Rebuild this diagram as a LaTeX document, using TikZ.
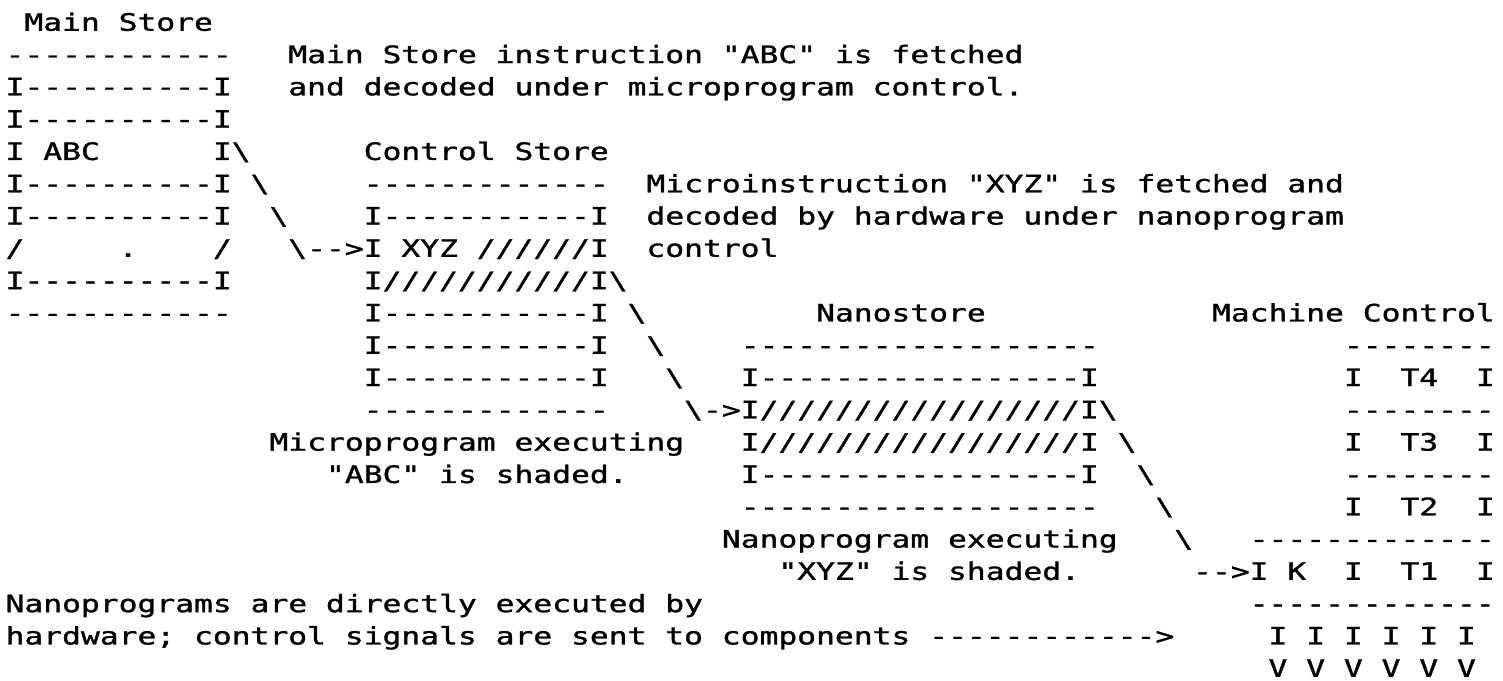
\documentclass[tikz,border=0pt]{standalone}
\usepackage{fontspec}
\setmonofont[FakeBold=1.1]{DejaVu Sans Mono}
\usepackage{graphicx}
\tikzset{asciitext/.style={anchor=base west,inner sep=0pt,outer sep=0pt,text=black}}
% #1 column, #2 row, #3 text (one run of the fixed-pitch printout)
\newcommand{\T}[3]{\node[asciitext] at ({5.575+18.85*#1},{30.75+32.3*(#2-1)}) {\scalebox{1.3046}[1]{\fontsize{12pt}{14pt}\selectfont\ttfamily #3}};}
\newcommand{\B}{\textbackslash}
\begin{document}
\begin{tikzpicture}[x=0.5pt,y=-0.5pt]
\fill[white] (0,0) rectangle (1503,680);
\useasboundingbox (0,0) rectangle (1503,680);
% row 1
\T{1}{1}{Main Store}
% row 2
\T{0}{2}{------------}
\T{15}{2}{Main Store instruction "ABC" is fetched}
% row 3
\T{0}{3}{I----------I}
\T{15}{3}{and decoded under microprogram control.}
% row 4
\T{0}{4}{I----------I}
% row 5
\T{0}{5}{I ABC}
\T{11}{5}{I\B}
\T{19}{5}{Control Store}
% row 6
\T{0}{6}{I----------I}
\T{13}{6}{\B}
\T{19}{6}{-------------}
\T{34}{6}{Microinstruction "XYZ" is fetched and}
% row 7
\T{0}{7}{I----------I}
\T{14}{7}{\B}
\T{19}{7}{I-----------I}
\T{34}{7}{decoded by hardware under nanoprogram}
% row 8
\T{0}{8}{/}
\T{6}{8}{.}
\T{11}{8}{/}
\T{15}{8}{\B-->I XYZ //////I}
\T{34}{8}{control}
% row 9
\T{0}{9}{I----------I}
\T{19}{9}{I///////////I\B}
% row 10
\T{0}{10}{------------}
\T{19}{10}{I-----------I}
\T{33}{10}{\B}
\T{43}{10}{Nanostore}
\T{64}{10}{Machine Control}
% row 11
\T{19}{11}{I-----------I}
\T{34}{11}{\B}
\T{39}{11}{-------------------}
\T{71}{11}{--------}
% row 12
\T{19}{12}{I-----------I}
\T{35}{12}{\B}
\T{39}{12}{I-----------------I}
\T{71}{12}{I}
\T{74}{12}{T4}
\T{78}{12}{I}
% row 13
\T{19}{13}{-------------}
\T{36}{13}{\B->I/////////////////I\B}
\T{71}{13}{--------}
% row 14
\T{14}{14}{Microprogram executing}
\T{39}{14}{I/////////////////I}
\T{59}{14}{\B}
\T{71}{14}{I}
\T{74}{14}{T3}
\T{78}{14}{I}
% row 15
\T{17}{15}{"ABC" is shaded.}
\T{39}{15}{I-----------------I}
\T{60}{15}{\B}
\T{71}{15}{--------}
% row 16
\T{39}{16}{-------------------}
\T{61}{16}{\B}
\T{71}{16}{I}
\T{74}{16}{T2}
\T{78}{16}{I}
% row 17
\T{38}{17}{Nanoprogram executing}
\T{62}{17}{\B}
\T{66}{17}{-------------}
% row 18
\T{41}{18}{"XYZ" is shaded.}
\T{63}{18}{-->I}
\T{68}{18}{K}
\T{71}{18}{I}
\T{74}{18}{T1}
\T{78}{18}{I}
% row 19
\T{0}{19}{Nanoprograms are directly executed by}
\T{66}{19}{-------------}
% row 20
\T{0}{20}{hardware; control signals are sent to components}
\T{49}{20}{------------>}
\T{67}{20}{I I I I I I}
% row 21
\T{67}{21}{V V V V V V}
\end{tikzpicture}
\end{document}
